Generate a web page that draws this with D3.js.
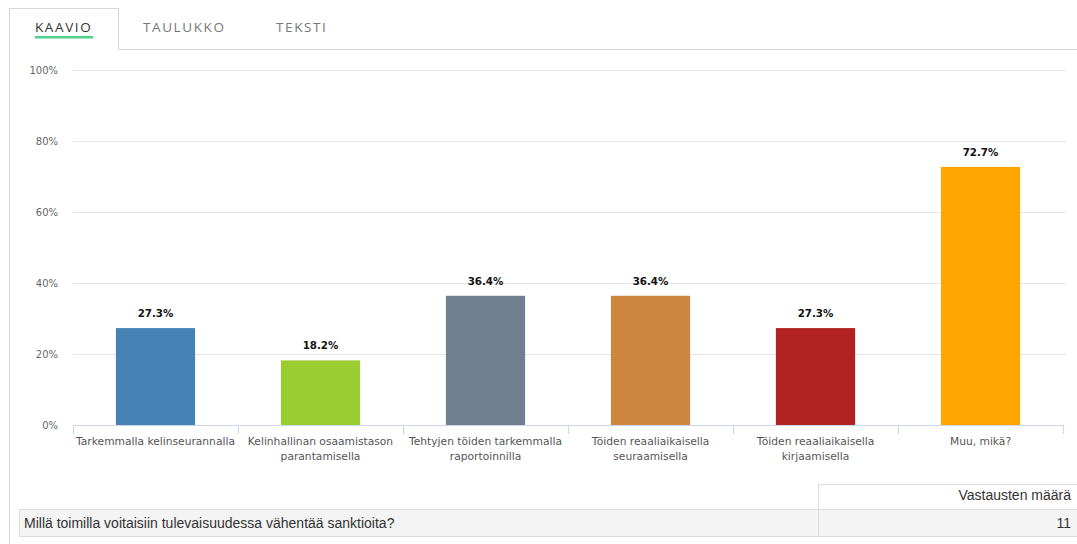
<!DOCTYPE html>
<html>
<head>
<meta charset="utf-8">
<script src="https://cdnjs.cloudflare.com/ajax/libs/d3/7.8.5/d3.min.js"></script>
<style>
  html, body { margin: 0; padding: 0; background: #fff; }
  svg { display: block; }
</style>
</head>
<body>
<svg id="chart" width="1077" height="544"></svg>
<script>
// Survey answers: share of respondents choosing each option
const categories = [
  ["Tarkemmalla kelinseurannalla"],
  ["Kelinhallinan osaamistason", "parantamisella"],
  ["Tehtyjen töiden tarkemmalla", "raportoinnilla"],
  ["Töiden reaaliaikaisella", "seuraamisella"],
  ["Töiden reaaliaikaisella", "kirjaamisella"],
  ["Muu, mikä?"]
];
const values = [27.3, 18.2, 36.4, 36.4, 27.3, 72.7];
const barColors = ["#4682b4", "#9acd32", "#708090", "#cd853f", "#b22222", "#ffa500"];
const yTicks = [0, 20, 40, 60, 80, 100];
const tabs = ["KAAVIO", "TAULUKKO", "TEKSTI"];
const question = "Millä toimilla voitaisiin tulevaisuudessa vähentää sanktioita?";
const countHeader = "Vastausten määrä";
const responseCount = 11;

const svg = d3.select("#chart");
const font = "'DejaVu Sans', Verdana, sans-serif";

// ---- Tabs ----
const tabX = [35, 143, 276];
svg.append("path")
  .attr("d", "M9.5,544 V8.5 H118.5 V49.5 H1077")
  .attr("fill", "none").attr("stroke", "#d6d6d6").attr("stroke-width", 1);
tabs.forEach((t, i) => {
  svg.append("text")
    .attr("x", tabX[i]).attr("y", 32)
    .attr("font-family", "'Open Sans', sans-serif")
    .attr("font-size", 13.5)
    .attr("letter-spacing", 1.6)
    .attr("fill", i === 0 ? "#333" : "#777")
    .text(t);
});
svg.append("rect").attr("x", 35).attr("y", 36).attr("width", 58).attr("height", 2.5)
  .attr("fill", "#4fd18b");

// ---- Chart ----
const plotLeft = 73, plotRight = 1063, plotTop = 70, plotBottom = 425;
const x = d3.scaleBand()
  .domain(d3.range(categories.length))
  .range([plotLeft, plotRight])
  .paddingInner(0.52)
  .paddingOuter(0.26);
const y = d3.scaleLinear().domain([0, 100]).range([plotBottom, plotTop]);

// grid lines
svg.append("g")
  .selectAll("line")
  .data(yTicks.filter(d => d > 0))
  .join("line")
  .attr("x1", plotLeft).attr("x2", 1066)
  .attr("y1", d => Math.round(y(d)) + 0.5).attr("y2", d => Math.round(y(d)) + 0.5)
  .attr("stroke", "#e6e6e6");

// y labels
svg.append("g")
  .selectAll("text")
  .data(yTicks)
  .join("text")
  .attr("x", 58).attr("y", d => y(d) + 4)
  .attr("text-anchor", "end")
  .attr("font-family", font).attr("font-size", 10)
  .attr("fill", "#666")
  .text(d => d + "%");

// bars
svg.append("g")
  .selectAll("rect")
  .data(values)
  .join("rect")
  .attr("x", (d, i) => x(i))
  .attr("width", x.bandwidth())
  .attr("y", d => y(d))
  .attr("height", d => plotBottom - y(d))
  .attr("fill", (d, i) => barColors[i]);

// x axis line and tick marks at band boundaries
const step = x.step();
const boundaries = d3.range(categories.length + 1).map(i => plotLeft + i * step);
svg.append("line")
  .attr("x1", plotLeft).attr("x2", plotRight)
  .attr("y1", plotBottom + 0.5).attr("y2", plotBottom + 0.5)
  .attr("stroke", "#ccd6eb");
svg.append("g")
  .selectAll("line")
  .data(boundaries)
  .join("line")
  .attr("x1", d => Math.round(d) + 0.5).attr("x2", d => Math.round(d) + 0.5)
  .attr("y1", plotBottom).attr("y2", plotBottom + 9)
  .attr("stroke", "#ccd6eb");

// data labels
svg.append("g")
  .selectAll("text")
  .data(values)
  .join("text")
  .attr("x", (d, i) => x(i) + x.bandwidth() / 2)
  .attr("y", d => y(d) - 11)
  .attr("text-anchor", "middle")
  .attr("font-family", font).attr("font-size", 10.3).attr("font-weight", "bold")
  .attr("fill", "#111")
  .text(d => d.toFixed(1) + "%");

// category labels
const catG = svg.append("g");
categories.forEach((lines, i) => {
  const cx = x(i) + x.bandwidth() / 2;
  const t = catG.append("text")
    .attr("x", cx)
    .attr("y", 445)
    .attr("text-anchor", "middle")
    .attr("font-family", font).attr("font-size", 10.7)
    .attr("fill", "#555");
  lines.forEach((ln, j) => {
    t.append("tspan").attr("x", cx).attr("dy", j === 0 ? 0 : 14.5).text(ln);
  });
});

// ---- Summary table ----
const tbl = svg.append("g");
const tFont = "'Liberation Sans', Arial, sans-serif";
tbl.append("rect").attr("x", 19.5).attr("y", 509.5).attr("width", 1058).attr("height", 27)
  .attr("fill", "#f4f4f4").attr("stroke", "#dcdcdc");
tbl.append("path")
  .attr("d", "M818.5,536 V484.5 H1077")
  .attr("fill", "none").attr("stroke", "#dcdcdc");
tbl.append("text")
  .attr("x", 1071).attr("y", 500).attr("text-anchor", "end")
  .attr("font-family", tFont).attr("font-size", 14).attr("fill", "#333")
  .text(countHeader);
tbl.append("text")
  .attr("x", 24).attr("y", 528)
  .attr("font-family", tFont).attr("font-size", 14).attr("fill", "#333")
  .text(question);
tbl.append("text")
  .attr("x", 1071).attr("y", 528).attr("text-anchor", "end")
  .attr("font-family", tFont).attr("font-size", 14).attr("fill", "#333")
  .text(responseCount);
</script>
</body>
</html>
